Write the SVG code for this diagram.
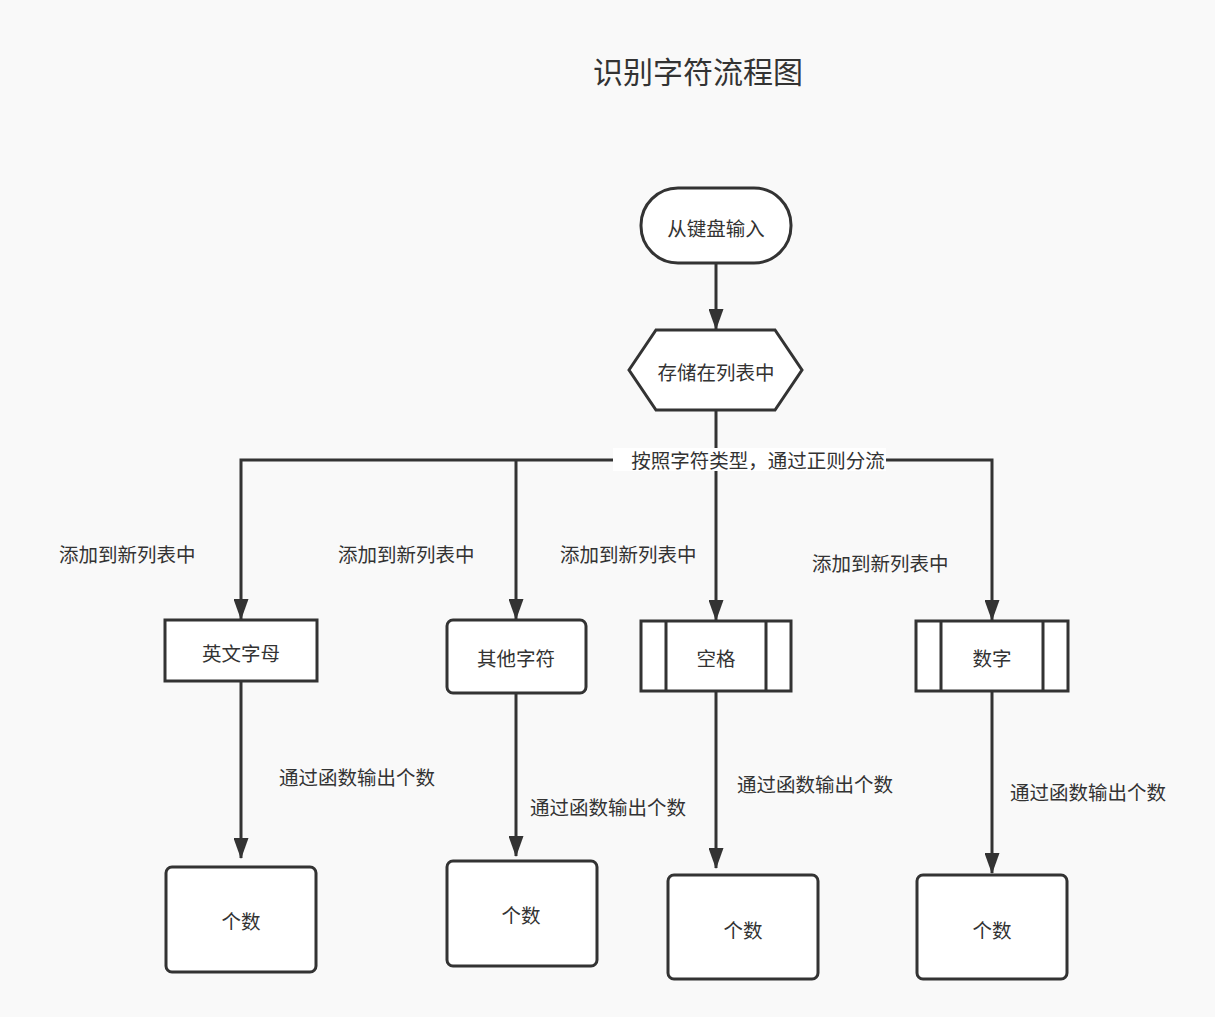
<svg xmlns="http://www.w3.org/2000/svg" width="1215" height="1017" viewBox="0 0 1215 1017">
<defs>
<style>
.n{fill:#fff;stroke:#333;stroke-width:3}
.e{fill:none;stroke:#333;stroke-width:3}
text{font-family:"Noto Sans CJK SC","Microsoft YaHei",sans-serif;fill:#333;font-size:19.5px;text-anchor:middle;dominant-baseline:central}
.l{text-anchor:start}
</style>
<marker id="a" markerWidth="21" markerHeight="15" refX="20" refY="7.5" orient="auto" markerUnits="userSpaceOnUse" viewBox="0 0 21 15">
<path d="M0,0 L21,7.5 L0,15 Z" fill="#333"/>
</marker>
</defs>
<rect width="1215" height="1017" fill="#f9f9f9"/>
<text x="698" y="70" style="font-size:30px">识别字符流程图</text>
<g id="edges">
<path class="e" d="M716,263 V329" marker-end="url(#a)"/>
<path class="e" d="M716,411 V620" marker-end="url(#a)"/>
<path class="e" d="M716,460 H241 V619" marker-end="url(#a)"/>
<path class="e" d="M516,460 V619" marker-end="url(#a)"/>
<path class="e" d="M716,460 H992 V620" marker-end="url(#a)"/>
<path class="e" d="M241,681 V858" marker-end="url(#a)"/>
<path class="e" d="M516,693 V856" marker-end="url(#a)"/>
<path class="e" d="M716,691 V868" marker-end="url(#a)"/>
<path class="e" d="M992,691 V873" marker-end="url(#a)"/>
<rect x="613" y="448" width="273" height="23" fill="#fff"/>
<text x="758" y="459">按照字符类型，通过正则分流</text>
<text class="l" x="59" y="553">添加到新列表中</text>
<text class="l" x="338" y="553">添加到新列表中</text>
<text class="l" x="560" y="553">添加到新列表中</text>
<text class="l" x="812" y="562">添加到新列表中</text>
<text class="l" x="279" y="776">通过函数输出个数</text>
<text class="l" x="530" y="806">通过函数输出个数</text>
<text class="l" x="737" y="783">通过函数输出个数</text>
<text class="l" x="1010" y="791">通过函数输出个数</text>
</g>
<g id="start">
<rect class="n" x="641" y="188" width="150" height="75" rx="37"/>
<text x="716" y="227">从键盘输入</text>
</g>
<g id="store">
<polygon class="n" points="629,370 656,330 775,330 802,370 775,410 656,410"/>
<text x="716" y="371">存储在列表中</text>
</g>
<g id="letters">
<rect class="n" x="165" y="620" width="152" height="61"/>
<text x="241" y="652">英文字母</text>
</g>
<g id="others">
<rect class="n" x="447" y="620" width="139" height="73" rx="6"/>
<text x="516" y="657">其他字符</text>
</g>
<g id="space">
<rect class="n" x="641" y="621" width="150" height="70"/>
<path class="e" d="M666,621 V691 M766,621 V691"/>
<text x="716" y="657">空格</text>
</g>
<g id="digits">
<rect class="n" x="916" y="621" width="152" height="70"/>
<path class="e" d="M941,621 V691 M1043,621 V691"/>
<text x="992" y="657">数字</text>
</g>
<g id="count1">
<rect class="n" x="166" y="867" width="150" height="105" rx="6"/>
<text x="241" y="920">个数</text>
</g>
<g id="count2">
<rect class="n" x="447" y="861" width="150" height="105" rx="6"/>
<text x="521" y="914">个数</text>
</g>
<g id="count3">
<rect class="n" x="668" y="875" width="150" height="104" rx="6"/>
<text x="743" y="929">个数</text>
</g>
<g id="count4">
<rect class="n" x="917" y="875" width="150" height="104" rx="6"/>
<text x="992" y="929">个数</text>
</g>
</svg>
